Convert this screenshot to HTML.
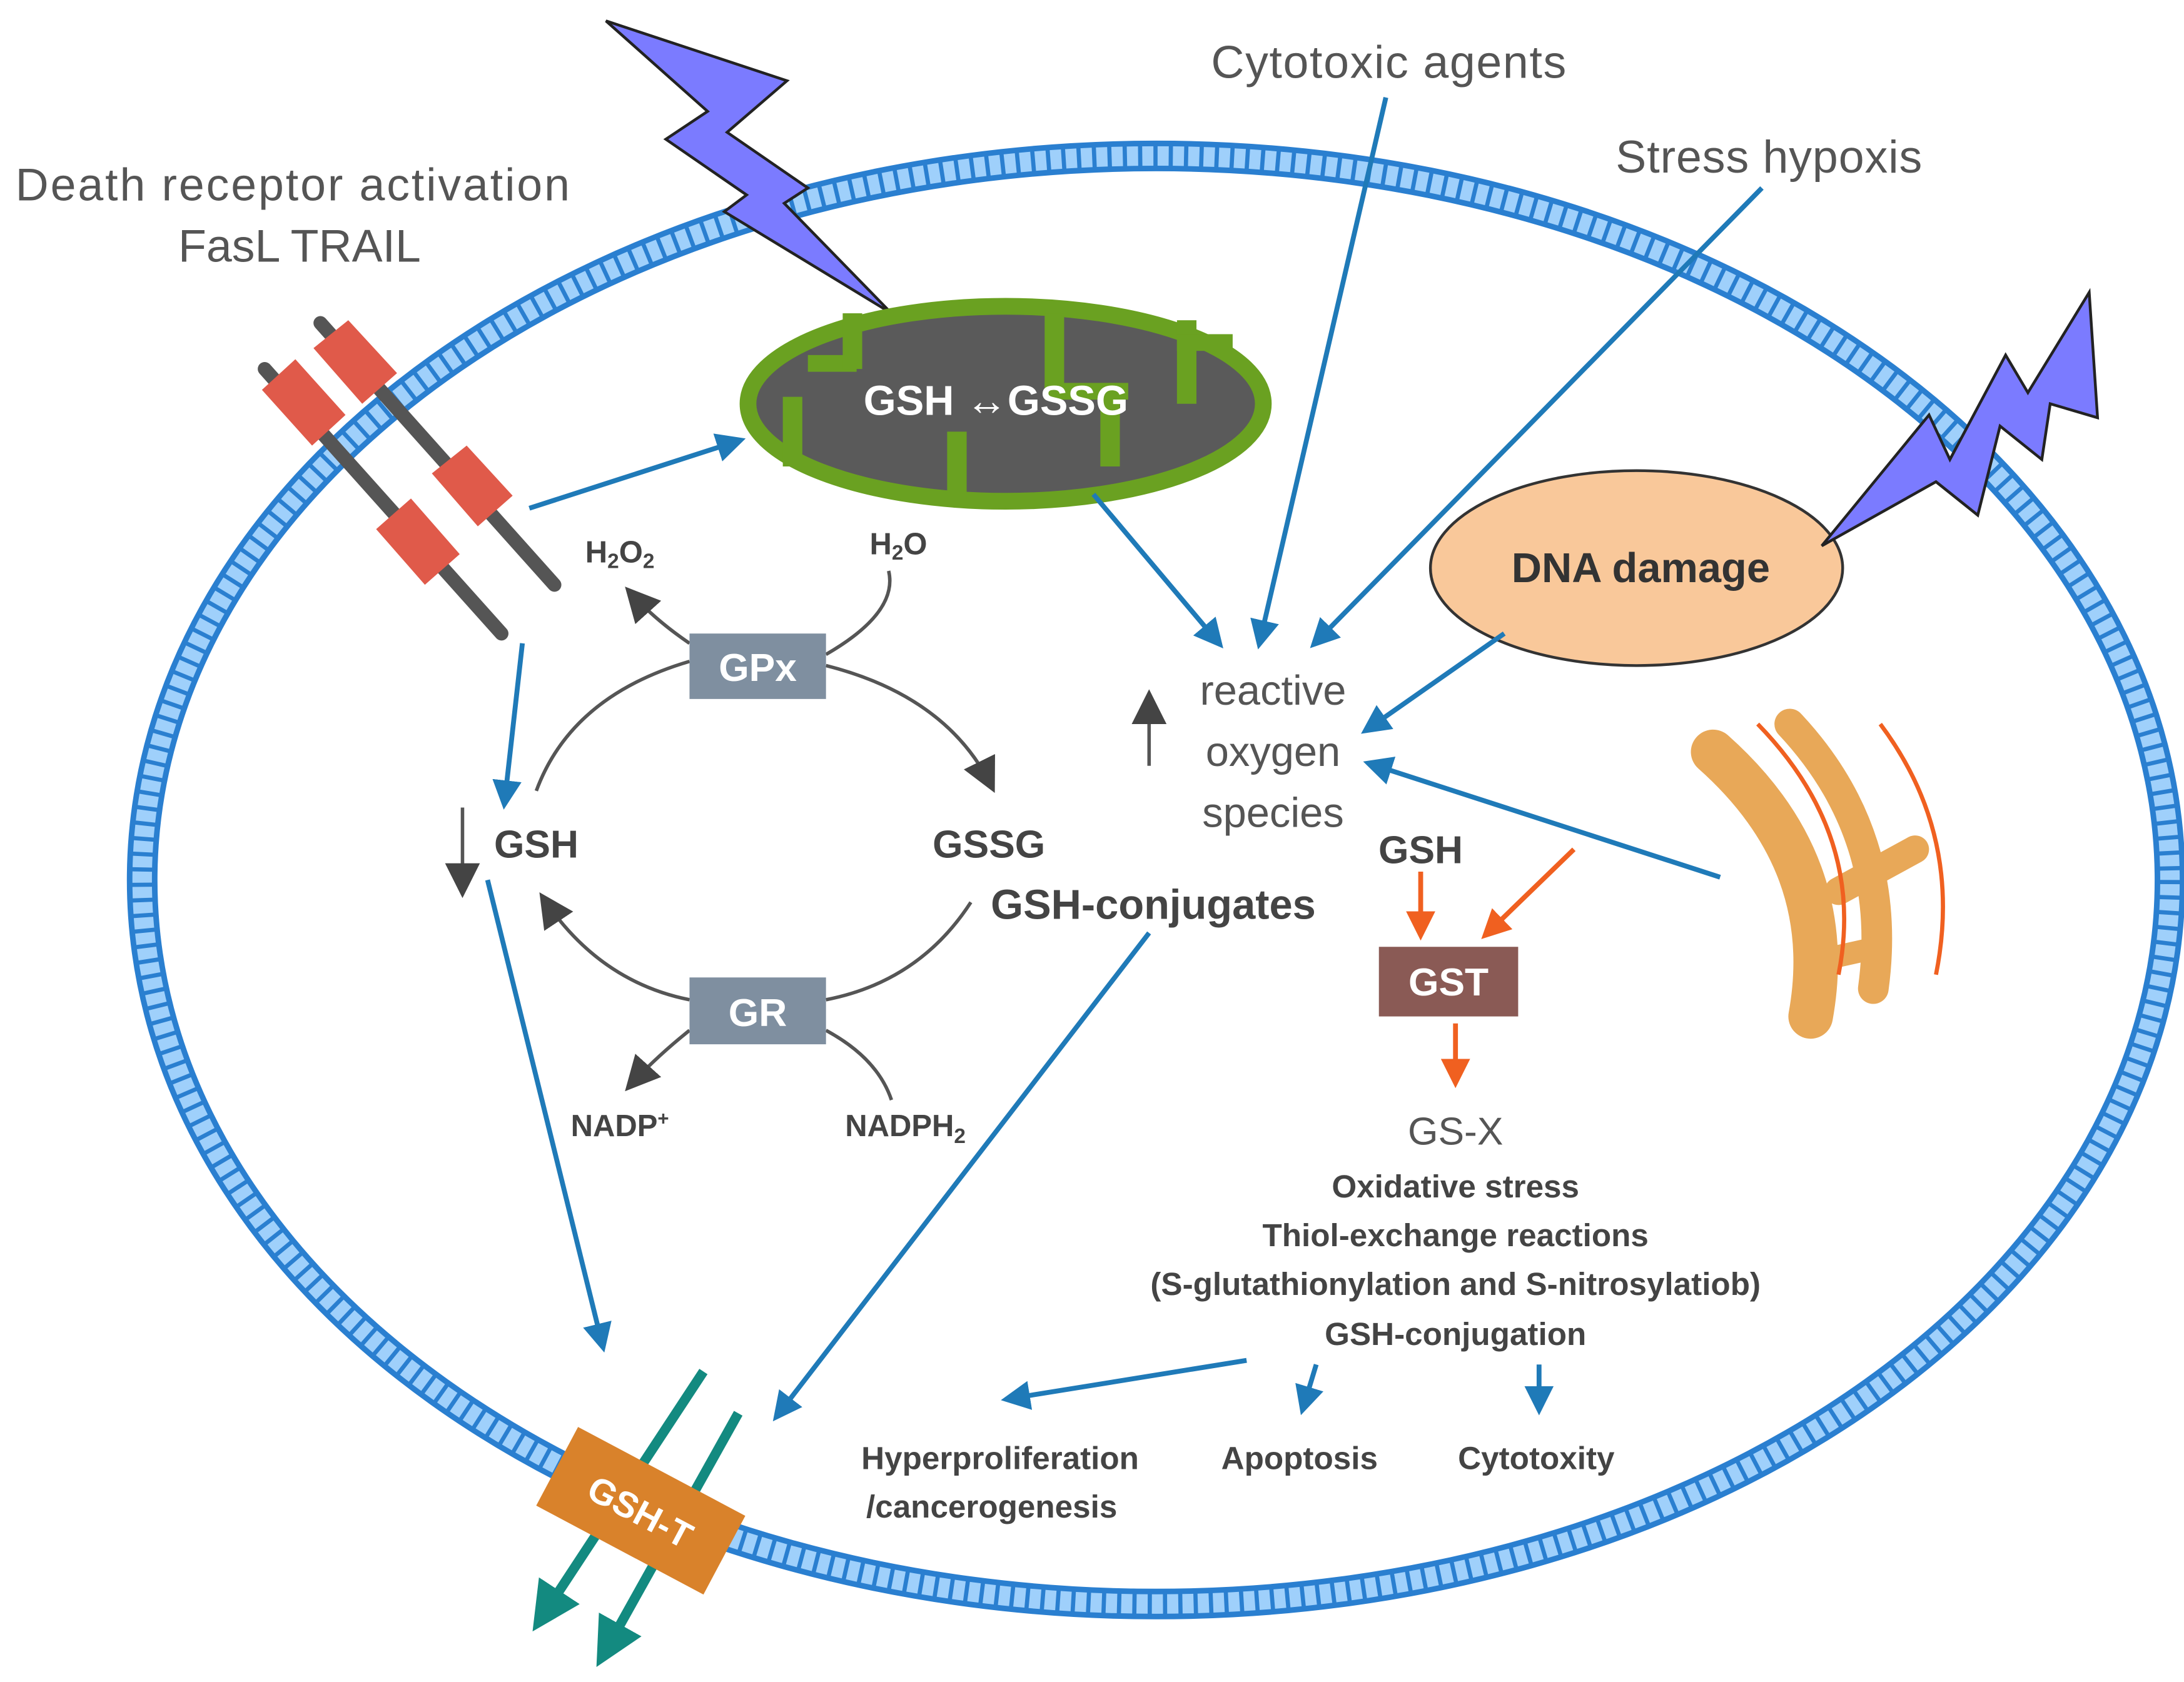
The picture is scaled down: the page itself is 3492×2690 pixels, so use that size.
<!DOCTYPE html>
<html><head><meta charset="utf-8"><style>html,body{margin:0;padding:0;background:#fff}svg{display:block}</style></head>
<body>
<svg width="3492" height="2690" viewBox="0 0 1568 1208" xmlns="http://www.w3.org/2000/svg" font-family="'Liberation Sans', sans-serif">
<defs>
<marker id="bl" markerWidth="6" markerHeight="6" refX="5" refY="3" orient="auto" markerUnits="strokeWidth"><path d="M0,0 L6,3 L0,6 z" fill="#1f7ab8"/></marker>
<marker id="gr" markerWidth="10" markerHeight="10" refX="8" refY="5" orient="auto" markerUnits="strokeWidth"><path d="M0,0 L10,5 L0,10 z" fill="#444"/></marker>
<marker id="or" markerWidth="6" markerHeight="6" refX="5" refY="3" orient="auto" markerUnits="strokeWidth"><path d="M0,0 L6,3 L0,6 z" fill="#f06020"/></marker>
<marker id="te" markerWidth="5" markerHeight="5" refX="3" refY="2.5" orient="auto" markerUnits="strokeWidth"><path d="M0,0 L5,2.5 L0,5 z" fill="#138a80"/></marker>
</defs>
<rect width="1568" height="1208" fill="#fff"/>
<!-- membrane -->
<ellipse cx="830" cy="632" rx="728" ry="520" fill="none" stroke="#2a7fd0" stroke-width="22"/>
<ellipse cx="830" cy="632" rx="728" ry="520" fill="none" stroke="#9fd0fb" stroke-width="14"/>
<ellipse cx="830" cy="632" rx="728" ry="520" fill="none" stroke="#2a7fd0" stroke-width="18" stroke-dasharray="3 8"/>
<!-- lightning 1 -->
<polygon points="435,15 565,58 522,95 580,135 563,146 640,225 520,152 536,140 478,100 508,80" fill="#7b7bff" stroke="#222" stroke-width="2"/>
<!-- mitochondria -->
<ellipse cx="722" cy="290" rx="185" ry="70" fill="#5a5a5a" stroke="#6aa121" stroke-width="12"/>
<g fill="#6aa121">
<rect x="562" y="285" width="14" height="50"/><rect x="580" y="255" width="35" height="12"/><rect x="605" y="225" width="14" height="40"/>
<rect x="680" y="310" width="14" height="50"/><rect x="750" y="225" width="14" height="60"/><rect x="750" y="275" width="60" height="12"/><rect x="790" y="275" width="14" height="60"/>
<rect x="845" y="230" width="14" height="60"/><rect x="845" y="240" width="40" height="12"/>
</g>
<text x="715" y="298" font-size="30" font-weight="bold" fill="#fff" text-anchor="middle">GSH ↔GSSG</text>
<!-- receptor -->
<g stroke="#555" stroke-width="10" stroke-linecap="round"><line x1="190" y1="265" x2="360" y2="455"/><line x1="230" y1="232" x2="398" y2="420"/></g>
<g fill="#e05a4a">
<polygon points="188,280 212,258 248,298 224,320"/><polygon points="225,250 250,230 285,268 260,290"/>
<polygon points="270,380 295,358 330,398 305,420"/><polygon points="310,340 335,320 368,356 343,378"/>
</g>
<!-- titles -->
<g fill="#555" font-size="33">
<text x="210" y="144" text-anchor="middle" textLength="398">Death receptor activation</text>
<text x="215" y="188" text-anchor="middle">FasL TRAIL</text>
<text x="997" y="56" text-anchor="middle" textLength="255">Cytotoxic agents</text>
<text x="1270" y="124" text-anchor="middle" textLength="220">Stress hypoxis</text>
</g>
<!-- DNA damage -->
<ellipse cx="1175" cy="408" rx="148" ry="70" fill="#f9c89a" stroke="#333" stroke-width="2"/>
<text x="1178" y="418" font-size="30" font-weight="bold" fill="#333" text-anchor="middle">DNA damage</text>
<polygon points="1308,392 1385,298 1400,330 1440,255 1456,282 1500,210 1506,300 1472,290 1466,330 1436,306 1420,370 1390,346" fill="#7b7bff" stroke="#222" stroke-width="2"/>
<!-- ER -->
<g fill="none" stroke="#e8a858" stroke-linecap="round">
<path d="M1230,540 Q1320,620 1300,730" stroke-width="32"/>
<path d="M1285,520 Q1360,600 1345,710" stroke-width="22"/>
<path d="M1320,640 L1375,610" stroke-width="20"/><path d="M1305,690 L1350,680" stroke-width="16"/>
</g>
<g fill="none" stroke="#f06020" stroke-width="3"><path d="M1262,520 Q1340,600 1320,700"/><path d="M1350,520 Q1410,600 1390,700"/></g>
<!-- cycle -->
<g fill="none" stroke="#555" stroke-width="2.5">
<path d="M495,475 Q410,500 385,568"/>
<path d="M593,478 Q680,500 712,565" marker-end="url(#gr)"/>
<path d="M697,648 Q660,705 593,718"/>
<path d="M495,718 Q430,705 390,645" marker-end="url(#gr)"/>
<path d="M495,462 Q470,445 452,425" marker-end="url(#gr)"/>
<path d="M593,470 Q645,440 638,410"/>
<path d="M495,740 Q470,760 452,780" marker-end="url(#gr)"/>
<path d="M593,740 Q630,760 640,790"/>
<line x1="332" y1="580" x2="332" y2="640" marker-end="url(#gr)"/>
<line x1="825" y1="550" x2="825" y2="500" marker-end="url(#gr)"/>
</g>
<rect x="495" y="455" width="98" height="47" fill="#7f8fa0"/>
<text x="544" y="489" font-size="28" font-weight="bold" fill="#fff" text-anchor="middle">GPx</text>
<rect x="495" y="702" width="98" height="48" fill="#7f8fa0"/>
<text x="544" y="737" font-size="28" font-weight="bold" fill="#fff" text-anchor="middle">GR</text>
<g fill="#444" font-weight="bold" font-size="22">
<text x="445" y="404" text-anchor="middle">H<tspan font-size="15" dy="4">2</tspan><tspan dy="-4">O</tspan><tspan font-size="15" dy="4">2</tspan></text>
<text x="645" y="398" text-anchor="middle">H<tspan font-size="15" dy="4">2</tspan><tspan dy="-4">O</tspan></text>
<text x="445" y="816" text-anchor="middle">NADP<tspan font-size="14" dy="-8">+</tspan></text>
<text x="650" y="816" text-anchor="middle">NADPH<tspan font-size="15" dy="5">2</tspan></text>
</g>
<g fill="#444" font-weight="bold">
<text x="385" y="616" font-size="28" text-anchor="middle">GSH</text>
<text x="710" y="616" font-size="28" text-anchor="middle">GSSG</text>
<text x="828" y="660" font-size="30" text-anchor="middle">GSH-conjugates</text>
<text x="1020" y="620" font-size="28" text-anchor="middle">GSH</text>
</g>
<g fill="#555" font-size="30" text-anchor="middle">
<text x="914" y="506">reactive</text><text x="914" y="550">oxygen</text><text x="914" y="594">species</text>
<text x="1045" y="822" font-size="28">GS-X</text>
</g>
<rect x="990" y="680" width="100" height="50" fill="#8a5a55"/>
<text x="1040" y="715" font-size="28" font-weight="bold" fill="#fff" text-anchor="middle">GST</text>
<g fill="#444" font-weight="bold" font-size="23" text-anchor="middle">
<text x="1045" y="860">Oxidative stress</text>
<text x="1045" y="895">Thiol-exchange reactions</text>
<text x="1045" y="930">(S-glutathionylation and S-nitrosylatiob)</text>
<text x="1045" y="966">GSH-conjugation</text>
<text x="718" y="1055">Hyperproliferation</text>
<text x="712" y="1090">/cancerogenesis</text>
<text x="933" y="1055">Apoptosis</text>
<text x="1103" y="1055">Cytotoxity</text>
</g>
<!-- blue arrows -->
<g stroke="#1f7ab8" stroke-width="3.5" fill="none" marker-end="url(#bl)">
<line x1="380" y1="365" x2="532" y2="316"/>
<line x1="375" y1="462" x2="362" y2="578"/>
<line x1="350" y1="632" x2="433" y2="968"/>
<line x1="785" y1="355" x2="876" y2="463"/>
<line x1="995" y1="70" x2="904" y2="463"/>
<line x1="1265" y1="135" x2="943" y2="463"/>
<line x1="1080" y1="455" x2="980" y2="525"/>
<line x1="1235" y1="630" x2="982" y2="548"/>
<line x1="825" y1="670" x2="557" y2="1018"/>
<line x1="895" y1="977" x2="722" y2="1005"/>
<line x1="945" y1="980" x2="935" y2="1013"/>
<line x1="1105" y1="980" x2="1105" y2="1013"/>
</g>
<g stroke="#f06020" stroke-width="3.5" marker-end="url(#or)">
<line x1="1020" y1="626" x2="1020" y2="672"/>
<line x1="1130" y1="610" x2="1066" y2="672"/>
<line x1="1045" y1="735" x2="1045" y2="778"/>
</g>
<!-- GSH-T -->
<g stroke="#138a80" stroke-width="7" marker-end="url(#te)">
<line x1="505" y1="985" x2="390" y2="1160"/>
<line x1="530" y1="1015" x2="435" y2="1185"/>
</g>
<g transform="translate(460,1085) rotate(28)">
<rect x="-68" y="-32" width="136" height="64" fill="#d9822b"/>
<text x="0" y="10" font-size="26" font-weight="bold" fill="#fff" text-anchor="middle">GSH-T</text>
</g>
</svg>
</body></html>
